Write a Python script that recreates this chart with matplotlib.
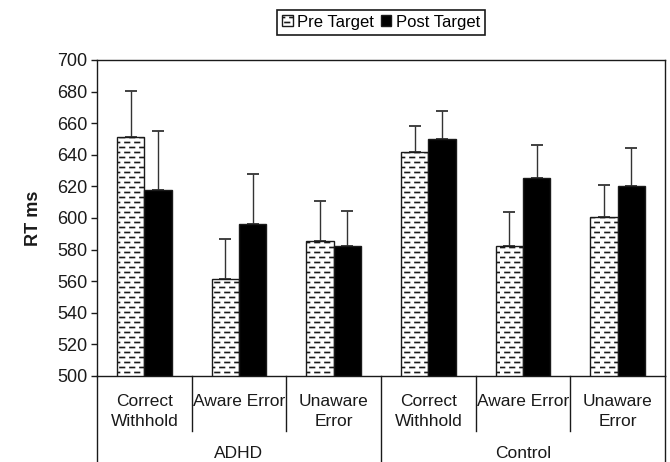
import numpy as np
import matplotlib
matplotlib.use("Agg")
import matplotlib.pyplot as plt
import matplotlib.hatch as mhatch
from matplotlib.path import Path as MPath
from matplotlib.transforms import blended_transform_factory

# values
groups = ["ADHD", "Control"]
conditions = ["Correct\nWithhold", "Aware Error", "Unaware\nError"]
pre_rt = [651.5, 561.5, 585.5, 642.0, 582.5, 600.5]
pre_se = [29.0, 25.0, 25.0, 16.5, 21.0, 20.5]
post_rt = [618.0, 596.0, 582.5, 650.0, 625.5, 620.0]
post_se = [37.0, 32.0, 22.0, 17.5, 20.5, 24.0]
series_names = ["Pre Target", "Post Target"]
y_ticks = list(range(500, 701, 20))


class DashedRows(mhatch.HatchPatternBase):
    """Excel-like 'dashed horizontal' fill used in place of the plain '-' hatch."""

    def __init__(self, hatch, density):
        self.rows = 20 if ("-" in hatch or "+" in hatch) else 0
        self.per_row = 10
        self.num_vertices = self.rows * self.per_row * 2

    def set_vertices_and_codes(self, vertices, codes):
        step = 1.0 / self.per_row
        k = 0
        for r in range(self.rows):
            y = (r + 0.5) / self.rows
            off = (r % 2) * step / 2
            for c in range(self.per_row):
                x0 = c * step + off
                vertices[k] = (x0, y)
                vertices[k + 1] = (x0 + step * 0.45, y)
                codes[k] = MPath.MOVETO
                codes[k + 1] = MPath.LINETO
                k += 2


mhatch._hatch_types = [DashedRows if t is mhatch.HorizontalHatch else t
                       for t in mhatch._hatch_types]

plt.rcParams["font.family"] = ["Liberation Sans", "DejaVu Sans"]
plt.rcParams["hatch.linewidth"] = 1.2
FS = 12.5
INK = "#1a1a1a"

W, H = 670, 462
fig = plt.figure(figsize=(W / 100, H / 100), dpi=100)
ax = fig.add_axes([97 / W, 86 / H, 568 / W, 316 / H])

x = np.arange(len(pre_rt))
bw = 0.29
b_pre = ax.bar(x - bw / 2, pre_rt, bw, color="white", edgecolor=INK,
               linewidth=1.0, hatch="-", zorder=2)
b_post = ax.bar(x + bw / 2, post_rt, bw, color="black", edgecolor=INK,
                linewidth=1.0, zorder=2)
zeros = np.zeros(len(pre_rt))
ax.errorbar(x - bw / 2, pre_rt, yerr=[zeros, pre_se], fmt="none",
            ecolor="#333333", elinewidth=1.0, capsize=4, capthick=1.3, zorder=1)
ax.errorbar(x + bw / 2, post_rt, yerr=[zeros, post_se], fmt="none",
            ecolor="#333333", elinewidth=1.0, capsize=4, capthick=1.3, zorder=1)

ax.set_xlim(-0.5, len(pre_rt) - 0.5)
ax.set_ylim(y_ticks[0], y_ticks[-1])
ax.set_yticks(y_ticks)
ax.set_xticks([])
ax.tick_params(axis="y", direction="out", length=4, width=1.0,
               labelsize=13, colors=INK, pad=3)
for s in ax.spines.values():
    s.set_linewidth(1.0)
    s.set_color(INK)

# two-level category axis below the plot
tr = blended_transform_factory(ax.transData, ax.transAxes)
labels = conditions * len(groups)
for i, lab in enumerate(labels):
    ax.text(x[i], -0.058, lab, transform=tr, ha="center", va="top",
            fontsize=FS, color=INK, linespacing=1.4)
n_c = len(conditions)
for i in range(1, len(labels)):
    depth = -0.272 if i % n_c == 0 else -0.173
    ax.plot([i - 0.5, i - 0.5], [0, depth], transform=tr, color=INK,
            lw=1.0, clip_on=False)
for edge in (-0.5, len(labels) - 0.5):
    ax.plot([edge, edge], [0, -0.272], transform=tr, color=INK,
            lw=1.0, clip_on=False)
for g, name in enumerate(groups):
    ax.text(g * n_c + (n_c - 1) / 2, -0.244, name, transform=tr,
            ha="center", va="center", fontsize=FS, color=INK)

fig.text(34 / W, 1 - 218 / H, "RT ms", rotation=90, ha="center", va="center",
         fontsize=13, fontweight="bold", color=INK)

leg = fig.legend([b_pre, b_post], series_names, loc="center",
                 bbox_to_anchor=(381 / W, 1 - 22 / H), ncol=2, frameon=True,
                 fancybox=False, edgecolor=INK, framealpha=1, fontsize=12,
                 borderpad=0.3, handlelength=0.65, handleheight=0.65,
                 handletextpad=0.25, columnspacing=0.4, borderaxespad=0)
leg.get_frame().set_linewidth(1.2)

fig.savefig("out.png", dpi=100)
